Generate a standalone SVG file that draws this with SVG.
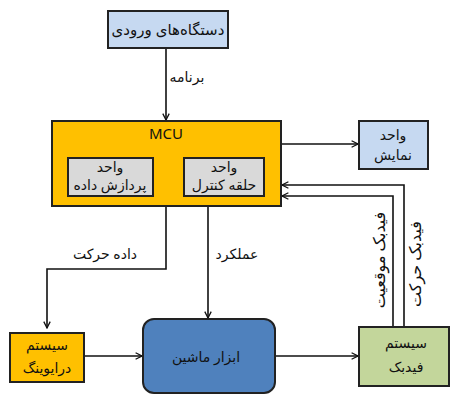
<svg xmlns="http://www.w3.org/2000/svg" width="460" height="400" viewBox="0 0 460 400">
<defs>
<style>
.box{stroke:#222;stroke-width:2}
.t{font-family:"Noto Sans","DejaVu Sans",sans-serif;font-size:14px;fill:#111;text-anchor:middle;direction:rtl}
.v{font-size:16px}
.ln{fill:none;stroke:#111;stroke-width:1.6}
</style>
<marker id="ar" viewBox="0 0 10 10" refX="9" refY="5" markerWidth="8" markerHeight="8" markerUnits="userSpaceOnUse" orient="auto">
<path d="M1,1 L9,5 L1,9" fill="none" stroke="#111" stroke-width="1.6"/>
</marker>
</defs>
<rect width="460" height="400" fill="#fff"/>
<g id="connectors">
<line class="ln" x1="166" y1="48" x2="166" y2="120" marker-end="url(#ar)"/>
<line class="ln" x1="281" y1="144" x2="358" y2="144" marker-end="url(#ar)"/>
<polyline class="ln" points="166,206 166,269 47,269 47,328" marker-end="url(#ar)"/>
<line class="ln" x1="208" y1="206" x2="208" y2="318" marker-end="url(#ar)"/>
<line class="ln" x1="84" y1="356" x2="142" y2="356" marker-end="url(#ar)"/>
<line class="ln" x1="275" y1="356" x2="358" y2="356" marker-end="url(#ar)"/>
<polyline class="ln" points="404,327 404,185 282,185" marker-end="url(#ar)"/>
<polyline class="ln" points="393,327 393,196 282,196" marker-end="url(#ar)"/>
<text class="t" x="187" y="82">برنامه</text>
<text class="t" x="105" y="259">داده حرکت</text>
<text class="t" x="237" y="259">عملکرد</text>
<text class="t v" transform="translate(385,260) rotate(-90)">فیدبک موقعیت</text>
<text class="t v" transform="translate(421,264) rotate(-90)">فیدبک حرکت</text>
</g>
<g id="input">
<rect class="box" x="108" y="11" width="120" height="37" fill="#C6D9F1"/>
<text class="t" x="168" y="35" style="font-size:15px">دستگاه‌های ورودی</text>
</g>
<g id="mcu">
<rect class="box" x="52" y="121" width="229" height="85" fill="#FFC000"/>
<text class="t" x="166" y="139" direction="ltr" style="font-size:15px">MCU</text>
</g>
<g id="data-unit">
<rect class="box" x="68" y="158" width="85" height="38" fill="#D9D9D9"/>
<text class="t" x="110" y="172">واحد</text>
<text class="t" x="110" y="190">پردازش داده</text>
</g>
<g id="control-unit">
<rect class="box" x="184" y="158" width="80" height="38" fill="#D9D9D9"/>
<text class="t" x="224" y="172">واحد</text>
<text class="t" x="224" y="190">حلقه کنترل</text>
</g>
<g id="display">
<rect class="box" x="359" y="121" width="69" height="48" fill="#C6D9F1"/>
<text class="t" x="393" y="140">واحد</text>
<text class="t" x="393" y="160">نمایش</text>
</g>
<g id="drive">
<rect class="box" x="10" y="333" width="74" height="49" fill="#FFC000"/>
<text class="t" x="47" y="350">سیستم</text>
<text class="t" x="47" y="373">درایوینگ</text>
</g>
<g id="machine">
<rect class="box" x="143" y="319" width="132" height="74" rx="11" fill="#4F81BD"/>
<text class="t" x="206" y="362">ابزار ماشین</text>
</g>
<g id="feedback">
<rect class="box" x="359" y="327" width="90" height="59" fill="#C3D69B"/>
<text class="t" x="406" y="348">سیستم</text>
<text class="t" x="406" y="372">فیدبک</text>
</g>
</svg>
